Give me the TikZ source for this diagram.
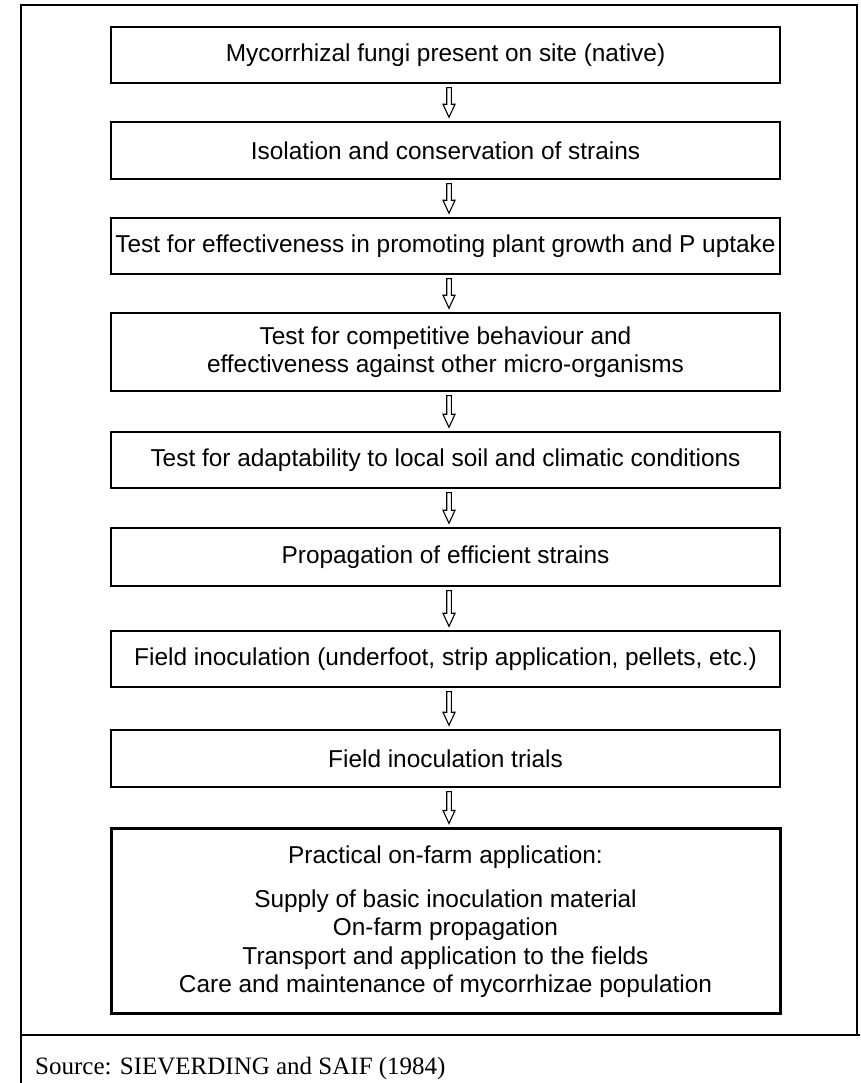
\documentclass[tikz,border=0pt]{standalone}
\usepackage{fontspec}
\setmainfont{Liberation Sans}
\newfontfamily\srcfont{Liberation Serif}
\usetikzlibrary{calc}
\tikzset{
  x=1pt, y=1pt,
  stepbox/.style={draw, line width=1.4pt, minimum width=669pt, inner sep=0pt,
    align=center, font=\fontsize{24.4}{28.5}\selectfont},
  lastbox/.style={stepbox, line width=3pt},
  harrowline/.style={draw, line width=1.1pt, fill=white, line join=miter},
  framelines/.style={line width=1.3pt},
}
\newcommand\hollowarrow[2]{%
  \path[harrowline] ($(#1.south)+(1.2,-4)$) -- ($(#2.north)+(1.2,17)$)
    -- ($(#2.north)+(-2.5,17)$) -- ($(#2.north)+(3.5,4)$)
    -- ($(#2.north)+(9.5,17)$) -- ($(#2.north)+(5.8,17)$)
    -- ($(#1.south)+(5.8,-4)$) -- cycle;}
\begin{document}
\begin{tikzpicture}
\useasboundingbox (0,0) rectangle (860,1083);
% outer frame
\draw[framelines] (21,0) -- (21,1078) -- (857,1078) -- (857,48);
\draw[line width=1.8pt] (21,48) -- (860,48);

\node[stepbox, minimum height=56pt] (b1) at (445.5,1028) {Mycorrhizal fungi present on site (native)};
\node[stepbox, minimum height=57pt] (b2) at (445.5,932.5) {Isolation and conservation of strains};
\node[stepbox, minimum height=56pt] (b3) at (445.5,837) {Test for effectiveness in promoting plant growth and P uptake};
\node[stepbox, minimum height=78pt] (b4) at (445.5,731) {Test for competitive behaviour and\\effectiveness against other micro-organisms};
\node[stepbox, minimum height=56pt] (b5) at (445.5,623) {Test for adaptability to local soil and climatic conditions};
\node[stepbox, minimum height=58pt] (b6) at (445.5,526) {Propagation of efficient strains};
\node[stepbox, minimum height=56pt] (b7) at (445.5,424) {Field inoculation (underfoot, strip application, pellets, etc.)};
\node[stepbox, minimum height=57pt] (b8) at (445.5,324.5) {Field inoculation trials};
\node[lastbox, minimum height=185pt] (b9) at (445.5,161.5) {Practical on-farm application:\\[15.5pt]Supply of basic inoculation material\\On-farm propagation\\Transport and application to the fields\\Care and maintenance of mycorrhizae population};

\hollowarrow{b1}{b2}
\hollowarrow{b2}{b3}
\hollowarrow{b3}{b4}
\hollowarrow{b4}{b5}
\hollowarrow{b5}{b6}
\hollowarrow{b6}{b7}
\hollowarrow{b7}{b8}
\hollowarrow{b8}{b9}

\node[anchor=base west, inner sep=0pt, font=\srcfont\fontsize{25}{30}\selectfont] (src) at (35,9) {Source: SIEVERDING and SAIF (1984)};
\end{tikzpicture}
\end{document}
